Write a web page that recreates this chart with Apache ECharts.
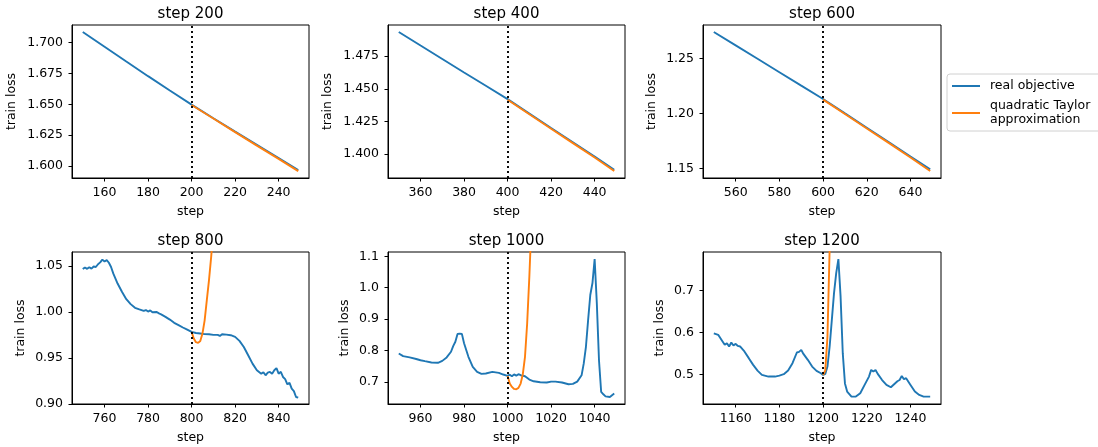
<!DOCTYPE html>
<html>
<head>
<meta charset="utf-8">
<script src="https://cdn.jsdelivr.net/npm/echarts@6/dist/echarts.min.js"></script>
<style>
html,body{margin:0;padding:0;background:#fff;}
#chart{width:1098px;height:447px;}
</style>
</head>
<body>
<div id="chart"></div>
<script>
// ---------- data ----------
const panelTitles = ['step 200', 'step 400', 'step 600', 'step 800', 'step 1000', 'step 1200'];
const centerSteps = [200, 400, 600, 800, 1000, 1200];

// panel 1 (step 200)
const p1RealSteps = [150, 160, 170, 180, 190, 200, 210, 220, 230, 240, 249];
const p1RealLoss  = [1.7086, 1.6966, 1.6846, 1.6728, 1.6612, 1.6498, 1.6388, 1.6279, 1.6172, 1.6066, 1.5968];
const p1TaylorSteps = [200, 210, 220, 230, 240, 249];
const p1TaylorLoss  = [1.6495, 1.6385, 1.6275, 1.6166, 1.6059, 1.5960];

// panel 2 (step 400)
const p2RealSteps = [350, 360, 370, 380, 390, 400, 410, 420, 430, 440, 449];
const p2RealLoss  = [1.4935, 1.4831, 1.4728, 1.4625, 1.4523, 1.4421, 1.4310, 1.4200, 1.4091, 1.3983, 1.3881];
const p2TaylorSteps = [400, 410, 420, 430, 440, 449];
const p2TaylorLoss  = [1.4416, 1.4305, 1.4195, 1.4085, 1.3975, 1.3871];

// panel 3 (step 600)
const p3RealSteps = [550, 560, 570, 580, 590, 600, 610, 620, 630, 640, 649];
const p3RealLoss  = [1.2740, 1.2618, 1.2496, 1.2374, 1.2252, 1.2131, 1.2000, 1.1870, 1.1740, 1.1608, 1.1491];
const p3TaylorSteps = [600, 610, 620, 630, 640, 649];
const p3TaylorLoss  = [1.2125, 1.1994, 1.1863, 1.1732, 1.1600, 1.1476];

// panel 4 (step 800)
const p4RealSteps = [750, 751, 752, 753, 754, 755, 756, 757, 758, 759, 760, 761, 762, 763, 764, 766, 768, 770, 772, 774, 776, 778, 779, 780, 781, 782, 784, 785, 786, 788, 790, 792, 794, 796, 798, 800, 802, 804, 806, 808, 810, 812, 813, 814, 816, 818, 820, 822, 824, 826, 828, 830, 832, 833, 834, 835, 836, 837, 838, 839, 840, 841, 842, 843, 844, 845, 846, 847, 848, 849];
const p4RealLoss  = [1.0467, 1.0485, 1.0470, 1.0488, 1.0472, 1.0495, 1.0490, 1.0520, 1.0540, 1.0570, 1.0550, 1.0565, 1.0536, 1.0490, 1.0420, 1.0310, 1.0220, 1.0140, 1.0086, 1.0046, 1.0028, 1.0012, 1.0022, 1.0005, 1.0018, 0.9998, 1.0000, 0.9985, 0.9975, 0.9948, 0.9918, 0.9883, 0.9858, 0.9832, 0.9808, 0.9784, 0.9772, 0.9766, 0.9760, 0.9759, 0.9752, 0.9752, 0.9740, 0.9758, 0.9755, 0.9748, 0.9730, 0.9686, 0.9620, 0.9530, 0.9439, 0.9367, 0.9330, 0.9345, 0.9312, 0.9340, 0.9349, 0.9330, 0.9367, 0.9390, 0.9330, 0.9350, 0.9294, 0.9270, 0.9214, 0.9230, 0.9167, 0.9140, 0.9076, 0.9069];
const p4TaylorSteps = [800, 801, 802, 803, 804, 805, 806, 807, 808, 809, 810, 812];
const p4TaylorLoss  = [0.9784, 0.9712, 0.9672, 0.9665, 0.9686, 0.9766, 0.9910, 1.0130, 1.0347, 1.0600, 1.0900, 1.1600];

// panel 5 (step 1000)
const p5RealSteps = [950, 952, 955, 958, 960, 962, 965, 968, 970, 972, 974, 975, 976, 977, 978, 979, 980, 982, 984, 986, 988, 990, 993, 996, 998, 1000, 1001, 1002, 1003, 1004, 1005, 1006, 1008, 1010, 1012, 1015, 1018, 1020, 1022, 1025, 1028, 1030, 1032, 1034, 1035, 1036, 1037, 1038, 1039, 1040, 1041, 1042, 1043, 1044, 1045, 1047, 1049];
const p5RealLoss  = [0.7907, 0.7820, 0.7780, 0.7730, 0.7690, 0.7660, 0.7620, 0.7610, 0.7670, 0.7780, 0.7960, 0.8140, 0.8280, 0.8530, 0.8540, 0.8530, 0.8230, 0.7800, 0.7480, 0.7320, 0.7256, 0.7267, 0.7320, 0.7288, 0.7235, 0.7192, 0.7230, 0.7180, 0.7240, 0.7200, 0.7245, 0.7213, 0.7180, 0.7075, 0.7020, 0.6990, 0.6980, 0.7010, 0.7010, 0.6980, 0.6925, 0.6936, 0.7010, 0.7210, 0.7590, 0.8120, 0.8970, 0.9770, 1.0150, 1.0915, 0.9510, 0.7690, 0.6680, 0.6605, 0.6540, 0.6520, 0.6627];
const p5TaylorSteps = [1000, 1001, 1002, 1003, 1004, 1005, 1006, 1007, 1008, 1009, 1010, 1011, 1012];
const p5TaylorLoss  = [0.7190, 0.6947, 0.6840, 0.6776, 0.6765, 0.6810, 0.6947, 0.7245, 0.7800, 0.8870, 1.0360, 1.2100, 1.4000];

// panel 6 (step 1200)
const p6RealSteps = [1150, 1152, 1154, 1155, 1156, 1157, 1158, 1159, 1160, 1161, 1162, 1164, 1166, 1168, 1170, 1172, 1175, 1178, 1180, 1182, 1184, 1186, 1188, 1189, 1190, 1191, 1193, 1195, 1197, 1199, 1200, 1201, 1202, 1203, 1204, 1205, 1206, 1207, 1208, 1209, 1210, 1211, 1213, 1215, 1217, 1219, 1221, 1222, 1223, 1224, 1225, 1227, 1229, 1231, 1233, 1234, 1235, 1236, 1237, 1238, 1240, 1242, 1244, 1246, 1249];
const p6RealLoss  = [0.5980, 0.5944, 0.5786, 0.5706, 0.5746, 0.5667, 0.5760, 0.5690, 0.5730, 0.5680, 0.5667, 0.5548, 0.5390, 0.5230, 0.5095, 0.4992, 0.4952, 0.4952, 0.4976, 0.5008, 0.5095, 0.5270, 0.5524, 0.5540, 0.5587, 0.5490, 0.5350, 0.5190, 0.5087, 0.5030, 0.4990, 0.5016, 0.5190, 0.5667, 0.6300, 0.6937, 0.7413, 0.7746, 0.6857, 0.5508, 0.4790, 0.4595, 0.4476, 0.4476, 0.4556, 0.4754, 0.4952, 0.5111, 0.5071, 0.5110, 0.5016, 0.4870, 0.4754, 0.4698, 0.4794, 0.4840, 0.4870, 0.4968, 0.4889, 0.4913, 0.4754, 0.4595, 0.4516, 0.4476, 0.4476];
const p6TaylorSteps = [1200, 1201, 1202, 1203, 1204];
const p6TaylorLoss  = [0.4990, 0.5100, 0.5900, 0.8000, 1.1000];

// axis limits and tick labels
const yMins = [1.5904, 1.3818, 1.1413, 0.9000, 0.6296, 0.4300];
const yMaxs = [1.7142, 1.4988, 1.2803, 1.0653, 1.1139, 0.7913];
const yTicks = [
  [1.600, 1.625, 1.650, 1.675, 1.700],
  [1.400, 1.425, 1.450, 1.475],
  [1.15, 1.20, 1.25],
  [0.90, 0.95, 1.00, 1.05],
  [0.7, 0.8, 0.9, 1.0, 1.1],
  [0.5, 0.6, 0.7]
];
const yDecimals = [3, 3, 2, 2, 1, 1];
const xTickOffsets = [-40, -20, 0, 20, 40];

const realSteps = [p1RealSteps, p2RealSteps, p3RealSteps, p4RealSteps, p5RealSteps, p6RealSteps];
const realLoss = [p1RealLoss, p2RealLoss, p3RealLoss, p4RealLoss, p5RealLoss, p6RealLoss];
const taylorSteps = [p1TaylorSteps, p2TaylorSteps, p3TaylorSteps, p4TaylorSteps, p5TaylorSteps, p6TaylorSteps];
const taylorLoss = [p1TaylorLoss, p2TaylorLoss, p3TaylorLoss, p4TaylorLoss, p5TaylorLoss, p6TaylorLoss];

// ---------- layout ----------
const FONT = 'DejaVu Sans';
const colLefts = [72, 388, 703];
const colWidths = [237, 237, 238];
const rowTops = [25, 252];
const rowHeights = [153, 152];
const yNameGaps = [54, 54, 45, 45, 37, 37];
const LW = 1.9;

const grids = [], xAxes = [], yAxes = [], titles = [], series = [];
for (let i = 0; i < 6; i++) {
  const r = Math.floor(i / 3), c = i % 3;
  grids.push({left: colLefts[c], top: rowTops[r], width: colWidths[c], height: rowHeights[r],
    show: true, borderColor: '#000', borderWidth: 1, backgroundColor: 'transparent', containLabel: false});
  const cs = centerSteps[i];
  xAxes.push({
    type: 'value', gridIndex: i, min: cs - 54.95, max: cs + 53.95,
    name: 'step', nameLocation: 'middle', nameGap: 27,
    nameTextStyle: {fontFamily: FONT, fontSize: 12.5, color: '#000'},
    axisLine: {show: true, onZero: false, lineStyle: {color: '#000', width: 1}},
    axisTick: {show: true, length: 3.5, lineStyle: {color: '#000'}, customValues: xTickOffsets.map(o => cs + o)},
    axisLabel: {fontFamily: FONT, fontSize: 12.5, color: '#000', margin: 8, customValues: xTickOffsets.map(o => cs + o),
      formatter: v => String(Math.round(v))},
    splitLine: {show: false}
  });
  yAxes.push({
    type: 'value', gridIndex: i, min: yMins[i], max: yMaxs[i],
    name: 'train loss', nameLocation: 'middle', nameGap: yNameGaps[i], nameRotate: 90,
    nameTextStyle: {fontFamily: FONT, fontSize: 12.5, color: '#000'},
    axisLine: {show: true, onZero: false, lineStyle: {color: '#000', width: 1}},
    axisTick: {show: true, length: 3.5, lineStyle: {color: '#000'}, customValues: yTicks[i]},
    axisLabel: {fontFamily: FONT, fontSize: 12.5, color: '#000', margin: 9, customValues: yTicks[i],
      formatter: (d => v => v.toFixed(d))(yDecimals[i])},
    splitLine: {show: false}
  });
  titles.push({
    text: panelTitles[i], left: colLefts[c] + colWidths[c] / 2, top: rowTops[r] - 18, textAlign: 'center', padding: 0,
    textStyle: {fontFamily: FONT, fontSize: 15, fontWeight: 'normal', color: '#000'}
  });
  series.push({
    name: 'real objective', type: 'line', xAxisIndex: i, yAxisIndex: i, symbol: 'none', clip: true,
    lineStyle: {color: '#1f77b4', width: LW}, itemStyle: {color: '#1f77b4'},
    data: realSteps[i].map((s, k) => [s, realLoss[i][k]]),
    markLine: {silent: true, symbol: 'none', label: {show: false}, animation: false,
      lineStyle: {color: '#000', type: [1.9, 3.1], width: 1.9}, data: [{xAxis: cs}]}
  });
  series.push({
    name: 'quadratic Taylor approximation', type: 'line', xAxisIndex: i, yAxisIndex: i, symbol: 'none', clip: true,
    lineStyle: {color: '#ff7f0e', width: LW}, itemStyle: {color: '#ff7f0e'},
    data: taylorSteps[i].map((s, k) => [s, taylorLoss[i][k]])
  });
}

const chart = echarts.init(document.getElementById('chart'), null, {renderer: 'canvas'});
chart.setOption({
  animation: false,
  backgroundColor: '#fff',
  title: titles,
  grid: grids,
  xAxis: xAxes,
  yAxis: yAxes,
  legend: {
    orient: 'vertical', left: 947, top: 74,
    data: ['real objective', 'quadratic Taylor approximation'],
    formatter: n => n.replace(' approximation', '\napproximation'),
    icon: 'rect',
    backgroundColor: '#fff', borderColor: '#d0d0d0', borderWidth: 1, borderRadius: 3,
    padding: [5, 20, 4, 5], itemGap: 6, itemWidth: 28, itemHeight: 2,
    textStyle: {fontFamily: FONT, fontSize: 12.5, color: '#000', lineHeight: 14, padding: [0, 0, 0, 5]},
    selectedMode: false
  },
  series: series
});
</script>
</body>
</html>
